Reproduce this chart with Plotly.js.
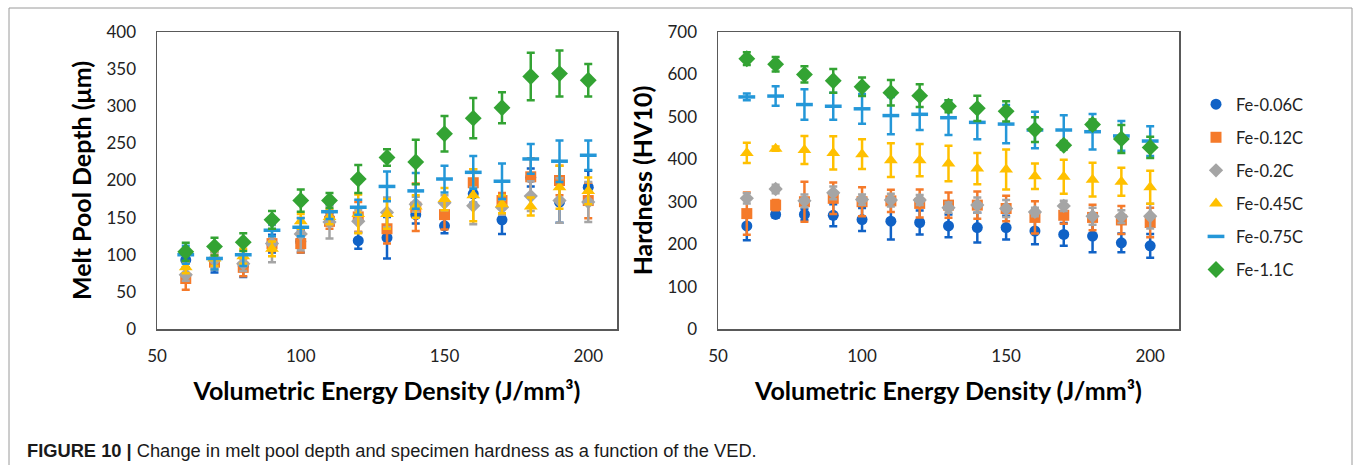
<!DOCTYPE html>
<html>
<head>
<meta charset="utf-8">
<script src="https://cdn.plot.ly/plotly-3.0.1.min.js"></script>
<style>html,body{margin:0;padding:0;background:#fff;}#chart{width:1355px;height:465px;}</style>
</head>
<body>
<div id="chart"></div>
<script>
// Volumetric energy density (J/mm3)
const ved = [60, 70, 80, 90, 100, 110, 120, 130, 140, 150, 160, 170, 180, 190, 200];
const seriesNames = ['Fe-0.06C', 'Fe-0.12C', 'Fe-0.2C', 'Fe-0.45C', 'Fe-0.75C', 'Fe-1.1C'];

// Melt pool depth (um) and error
const depth006 = [93, 90, 85, 115, 118, 148, 119, 123, 154, 139, 182, 147, 204, 171, 191];
const depth006Err = [10, 14, 15, 12, 15, 8, 11, 28, 12, 10, 12, 19, 12, 28, 22];
const depth012 = [68, 90, 83, 115, 115, 145, 151, 135, 164, 154, 197, 173, 205, 200, 173];
const depth012Err = [15, 10, 12, 10, 12, 10, 20, 20, 32, 20, 18, 10, 25, 20, 24];
const depth02 = [73, 93, 88, 115, 128, 144, 145, 157, 168, 170, 166, 164, 179, 173, 171];
const depth02Err = [8, 10, 10, 25, 22, 22, 15, 20, 10, 10, 25, 10, 20, 30, 27];
const depth045 = [83, 95, 98, 108, 145, 151, 155, 155, 165, 175, 180, 168, 165, 191, 186];
const depth045Err = [8, 10, 10, 10, 10, 10, 26, 20, 15, 15, 35, 12, 12, 29, 18];
const depth075 = [100, 95, 100, 133, 137, 158, 164, 192, 186, 202, 211, 199, 229, 226, 234];
const depth075Err = [12, 15, 15, 8, 12, 10, 10, 20, 24, 18, 22, 24, 20, 28, 20];
const depth11 = [104, 111, 117, 147, 173, 173, 202, 231, 225, 263, 284, 298, 340, 344, 335];
const depth11Err = [12, 12, 12, 12, 15, 10, 19, 11, 30, 24, 27, 21, 32, 31, 22];

// Hardness (HV10) and error
const hard006 = [243, 270, 270, 268, 258, 254, 251, 243, 239, 239, 231, 223, 219, 203, 196];
const hard006Err = [34, 8, 13, 26, 27, 43, 28, 27, 35, 28, 31, 27, 38, 22, 28];
const hard012 = [272, 292, 300, 308, 300, 302, 296, 292, 292, 284, 263, 268, 263, 257, 251];
const hard012Err = [50, 12, 47, 37, 34, 26, 33, 30, 32, 30, 38, 20, 30, 33, 35];
const hard02 = [308, 330, 302, 321, 305, 304, 304, 286, 292, 284, 276, 290, 266, 265, 266];
const hard02Err = [12, 10, 15, 15, 12, 15, 12, 12, 18, 20, 10, 12, 20, 15, 29];
const hard045 = [415, 425, 422, 415, 412, 398, 398, 390, 378, 376, 360, 359, 352, 347, 334];
const hard045Err = [24, 5, 33, 39, 35, 40, 38, 42, 37, 47, 30, 40, 40, 33, 39];
const hard075 = [547, 549, 529, 525, 519, 503, 506, 498, 487, 483, 469, 469, 465, 455, 443];
const hard075Err = [8, 23, 36, 32, 35, 44, 37, 41, 40, 45, 43, 35, 42, 35, 35];
const hard11 = [637, 624, 600, 585, 571, 557, 550, 525, 520, 513, 470, 433, 482, 448, 428];
const hard11Err = [15, 17, 19, 28, 22, 30, 27, 14, 30, 24, 29, 10, 12, 33, 25];

const xTicks = [50, 100, 150, 200];

const depthSets = [[depth006, depth006Err], [depth012, depth012Err], [depth02, depth02Err], [depth045, depth045Err], [depth075, depth075Err], [depth11, depth11Err]];
const hardSets = [[hard006, hard006Err], [hard012, hard012Err], [hard02, hard02Err], [hard045, hard045Err], [hard075, hard075Err], [hard11, hard11Err]];

const styles = [
  {color: '#1062C6', symbol: 'circle', size: 11},
  {color: '#F57A2A', symbol: 'square', size: 11},
  {color: '#A5A5A5', symbol: 'diamond', size: 11},
  {color: '#FFC000', symbol: 'triangle-up', size: 12},
  {color: '#2497D8', symbol: 'line-ew', size: 12},
  {color: '#33A333', symbol: 'diamond', size: 13}
];

function makeTrace(vals, errs, i, xa, ya, showLegend) {
  const s = styles[i];
  const marker = {color: s.color, symbol: s.symbol, size: s.size};
  if (s.symbol === 'line-ew') marker.line = {color: s.color, width: 3.5};
  return {
    type: 'scatter', mode: 'markers', x: ved, y: vals,
    name: seriesNames[i], legendgroup: 'g' + i, showlegend: showLegend,
    xaxis: xa, yaxis: ya, marker: marker,
    error_y: {type: 'data', array: errs, visible: true, color: s.color, thickness: 2.5, width: 4}
  };
}

const traces = [];
depthSets.forEach((d, i) => traces.push(makeTrace(d[0], d[1], i, 'x', 'y', false)));
hardSets.forEach((d, i) => traces.push(makeTrace(d[0], d[1], i, 'x2', 'y2', true)));

const W = 1355, H = 465;
const px = v => v / W, py = v => 1 - v / H;
const tickFont = {family: 'Lato, "Open Sans", sans-serif', size: 17, color: '#222'};
const titleFont = {family: 'Lato, "Open Sans", sans-serif', size: 25, color: '#000', weight: 'bold'};

const axisCommon = {
  showgrid: false, zeroline: false, showline: true, mirror: true,
  linecolor: '#595959', linewidth: 1.5, ticks: '', tickfont: tickFont
};

const layout = {
  width: W, height: H,
  margin: {l: 0, r: 0, t: 0, b: 0},
  paper_bgcolor: '#fff', plot_bgcolor: '#fff',
  showlegend: true,
  xaxis: Object.assign({}, axisCommon, {
    domain: [px(157), px(617)], range: [50, 210], tickvals: xTicks, anchor: 'y',
    ticklabelstandoff: 11,
    title: {text: '<b>Volumetric Energy Density (J/mm³)</b>', font: titleFont, standoff: 17}
  }),
  yaxis: Object.assign({}, axisCommon, {
    domain: [py(329), py(32)], range: [0, 400], dtick: 50, anchor: 'x',
    ticklabelstandoff: 16,
    title: {text: '<b>Melt Pool Depth (μm)</b>', font: titleFont, standoff: 8}
  }),
  xaxis2: Object.assign({}, axisCommon, {
    domain: [px(718), px(1179)], range: [50, 210], tickvals: xTicks, anchor: 'y2',
    ticklabelstandoff: 11,
    title: {text: '<b>Volumetric Energy Density (J/mm³)</b>', font: titleFont, standoff: 17}
  }),
  yaxis2: Object.assign({}, axisCommon, {
    domain: [py(329), py(32)], range: [0, 700], dtick: 100, anchor: 'x2',
    ticklabelstandoff: 16,
    title: {text: '<b>Hardness (HV10)</b>', font: titleFont, standoff: 8}
  }),
  legend: {
    x: px(1196), y: py(87), xanchor: 'left', yanchor: 'top',
    font: {family: 'Lato, "Open Sans", sans-serif', size: 16.5, color: '#222'},
    tracegroupgap: 8.6, traceorder: 'grouped', bgcolor: 'rgba(0,0,0,0)', itemwidth: 30
  },
  shapes: [
    {type: 'path', xref: 'paper', yref: 'paper',
     path: 'M ' + px(9) + ' ' + py(470) + ' L ' + px(9) + ' ' + py(8) + ' L ' + px(1352) + ' ' + py(8) + ' L ' + px(1352) + ' ' + py(470),
     line: {color: '#9a9a9a', width: 1}}
  ],
  annotations: [
    {xref: 'paper', yref: 'paper', x: px(25), y: py(450), xanchor: 'left', yanchor: 'middle', showarrow: false,
     text: '<b>FIGURE 10 |</b> Change in melt pool depth and specimen hardness as a function of the VED.',
     font: {family: '"Liberation Sans", Arial, sans-serif', size: 18.3, color: '#1a1a1a'}}
  ]
};

Plotly.newPlot('chart', traces, layout, {displayModeBar: false, staticPlot: true});
</script>
</body>
</html>
